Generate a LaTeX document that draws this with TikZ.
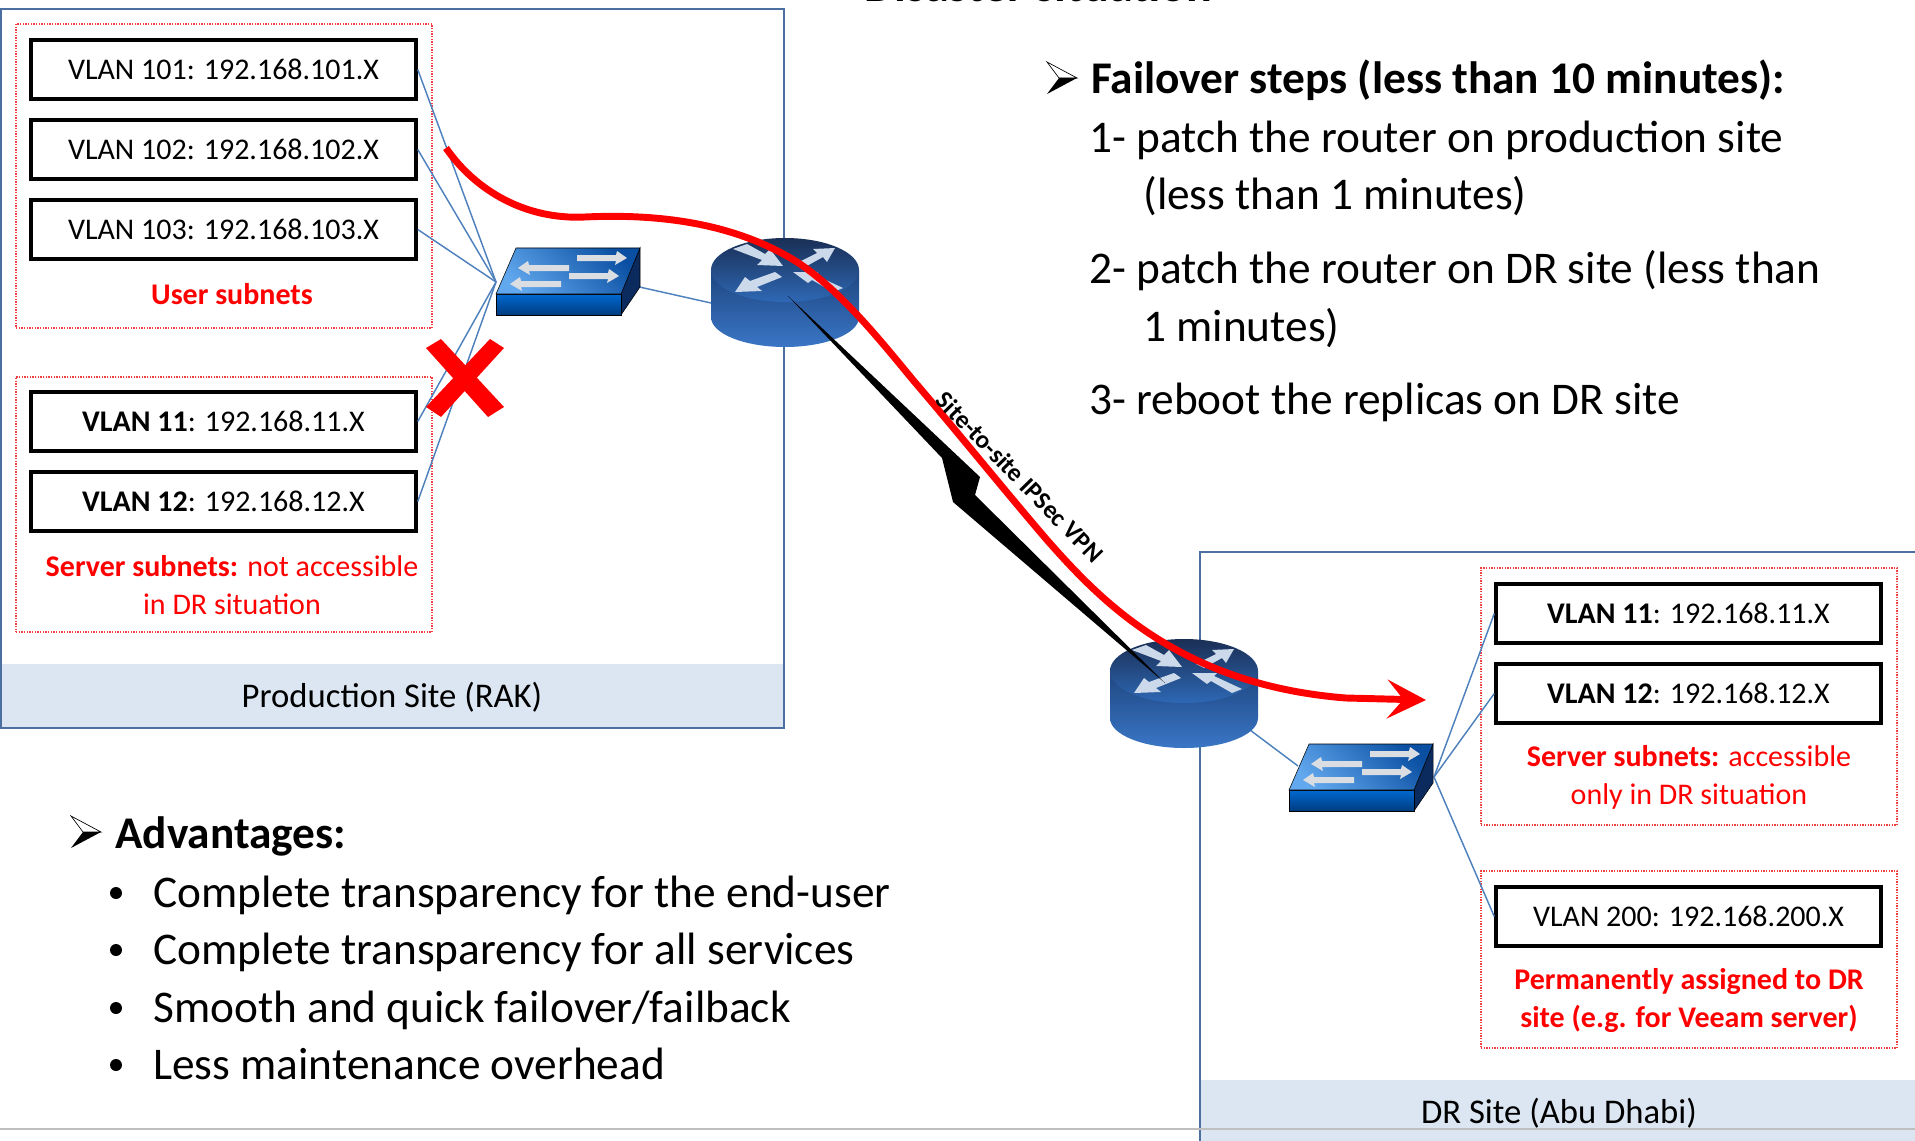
\documentclass[tikz,border=0pt]{standalone}
\usepackage{fontspec}
\setmainfont{Carlito}
\usetikzlibrary{arrows.meta}
\definecolor{sitebd}{HTML}{4A6FA0}
\definecolor{band}{HTML}{DCE6F2}
\definecolor{link}{HTML}{4F81BD}
\definecolor{dotred}{HTML}{F04040}
\definecolor{arrowfill}{HTML}{CBD9EA}
\definecolor{rbodyT}{HTML}{1E4680}
\definecolor{rbodyB}{HTML}{3A76C6}
\definecolor{rtopT}{HTML}{1A2F55}
\definecolor{rtopB}{HTML}{2E68B5}
\definecolor{swside}{HTML}{0B2A5E}
\definecolor{swfrontT}{HTML}{0068D0}
\definecolor{swfrontB}{HTML}{003C80}
\definecolor{swLL}{HTML}{62A8EE}
\definecolor{swUR}{HTML}{0A4FA2}
\definecolor{swarrowc}{HTML}{DADDE2}
\tikzset{
  vlanbox/.style={draw=black,line width=2.6pt,fill=white,inner sep=0pt,minimum width=288.75pt,minimum height=44.25pt,font=\fontsize{22.5}{27}\selectfont},
  dotbox/.style={draw=dotred,densely dotted,line width=1pt,inner sep=0pt,minimum width=312pt},
  redtext/.style={text=red,align=center,inner sep=0pt,font=\fontsize{22.5}{28.5}\selectfont},
  sitelabel/.style={inner sep=0pt,font=\fontsize{26}{30}\selectfont},
  bigtext/.style={anchor=base west,inner sep=0pt,font=\fontsize{34}{40}\selectfont},
  sitebox/.style={draw=sitebd,line width=2pt},
  conn/.style={draw=link,line width=1.1pt},
}
\newcommand{\routerpic}[2]{%
 \begin{scope}[shift={(#1,#2)}]
  \shade[top color=rbodyT,bottom color=rbodyB] (-74,0) -- (-74,47) .. controls (-74,64) and (-40,77) .. (0,77) .. controls (40,77) and (74,64) .. (74,47) -- (74,0) -- cycle;
  \shade[top color=rtopT,bottom color=rtopB] (0,0) ellipse [x radius=74,y radius=32];
  \fill[arrowfill] (-52,-21) -- (-38,-26) -- (-20,-16) -- (-15,-21) -- (-2,-4) -- (-28,-5) -- (-23,-10) -- cycle;
  \fill[arrowfill] (12,-7) -- (20,-3) -- (38,-13) -- (42,-8) -- (50,-22) -- (28,-21) -- (32,-17) -- cycle;
  \fill[arrowfill] (-10,2) -- (-3,7) -- (-28,17) -- (-23,21) -- (-50,22) -- (-40,7) -- (-35,11) -- cycle;
  \fill[arrowfill] (58,18) -- (48,22) -- (27,10) -- (23,13) -- (8,2) -- (33,2) -- (30,5) -- cycle;
 \end{scope}}
\newcommand{\swar}[4]{% tailx, y, tipx, sign
 \fill[swarrowc] (#1,#2-3) -- (#3-#4*11,#2-3) -- (#3-#4*10,#2-7) -- (#3,#2) -- (#3-#4*12,#2+7) -- (#3-#4*11,#2+3) -- (#1,#2+3) -- cycle;}
\newcommand{\switchpic}[2]{%
 \begin{scope}[shift={(#1,#2)}]
  \fill[swside,draw=black,line width=.4pt] (640,248) -- (640,287) -- (621,315) -- (621,294) -- cycle;
  \shade[top color=swfrontT,bottom color=swfrontB,draw=black,line width=.4pt] (496,294) rectangle (621,315);
  \shade[top color=swUR,bottom color=swLL,shading angle=-45,draw=black,line width=.4pt] (516,248) -- (640,248) -- (621,294) -- (496,294) -- cycle;
  \swar{577}{258}{627}{1}
  \swar{569}{268}{518}{-1}
  \swar{569}{276}{619}{1}
  \swar{561}{284}{510}{-1}
 \end{scope}}
\newcommand{\bulletarrow}[3]{% backx, tipy, half-height
 \filldraw[fill=white,draw=black,line width=.5pt] (#1,#2-#3) -- (#1+30,#2) -- (#1+12,#2) -- cycle;
 \fill[black] (#1,#2+#3) -- (#1+30,#2) -- (#1+12,#2) -- cycle;}
\begin{document}
\begin{tikzpicture}[x=.75pt,y=-.75pt]
\path[use as bounding box,clip] (0,0) rectangle (1915,1141);
% title
\node[anchor=base,inner sep=0pt,font=\fontsize{36}{40}\bfseries\selectfont] (title) at (1038,2) {Disaster situation};
% sites
\fill[band] (1,664) rectangle (784,728);
\draw[sitebox] (1,9) rectangle (784,728);
\fill[band] (1200,1080) rectangle (1916,1142);
\draw[sitebox] (1920,552) -- (1200,552) -- (1200,1146);
\node[sitelabel] (prodlabel) at (392,697) {Production Site (RAK)};
\node[sitelabel] (drlabel) at (1559,1113) {DR Site (Abu Dhabi)};
% dotted groups
\node[dotbox,minimum height=228pt] (usergrp) at (224,176) {};
\node[dotbox,minimum height=191.25pt] (servergrp) at (224,504.5) {};
\node[dotbox,minimum height=192.75pt] (drgrp) at (1689,696.5) {};
\node[dotbox,minimum height=132.75pt] (permgrp) at (1689,959.5) {};
% vlan boxes
\node[vlanbox] (v101) at (223.5,69.5) {VLAN 101: 192.168.101.X};
\node[vlanbox] (v102) at (223.5,149.5) {VLAN 102: 192.168.102.X};
\node[vlanbox] (v103) at (223.5,229.5) {VLAN 103: 192.168.103.X};
\node[vlanbox] (v11) at (223.5,421.5) {\textbf{VLAN 11}: 192.168.11.X};
\node[vlanbox] (v12) at (223.5,501.5) {\textbf{VLAN 12}: 192.168.12.X};
\node[vlanbox] (d11) at (1688.5,613.5) {\textbf{VLAN 11}: 192.168.11.X};
\node[vlanbox] (d12) at (1688.5,693.5) {\textbf{VLAN 12}: 192.168.12.X};
\node[vlanbox] (d200) at (1688.5,916.5) {VLAN 200: 192.168.200.X};
% red labels
\node[redtext] (userlbl) at (232,294) {\textbf{User subnets}};
\node[redtext] (serverlbl) at (232,585) {\textbf{Server subnets:} not accessible\\in DR situation};
\node[redtext] (drlbl) at (1689,777) {\textbf{Server subnets:} accessible\\only in DR situation};
\node[redtext] (permlbl) at (1689,1001) {\textbf{Permanently assigned to DR}\\\textbf{site (e.g. for Veeam server)}};
% port coordinates
\coordinate (sw1port) at (496,282);
\coordinate (sw1up) at (635,286);
\coordinate (r1left) at (711,303);
\coordinate (r2low) at (1250,730);
\coordinate (sw2up) at (1298,766);
\coordinate (sw2port) at (1434,777);
% connectors
\draw[conn] (v101.east) -- (sw1port);
\draw[conn] (v102.east) -- (sw1port);
\draw[conn] (v103.east) -- (sw1port);
\draw[conn] (v11.east) -- (sw1port);
\draw[conn] (v12.east) -- (sw1port);
\draw[conn] (sw1up) -- (r1left);
\draw[conn] (r2low) -- (sw2up);
\draw[conn] (sw2port) -- (d11.west);
\draw[conn] (sw2port) -- (d12.west);
\draw[conn] (sw2port) -- (d200.west);
% devices
\switchpic{0}{0}
\switchpic{793}{496}
\routerpic{785}{270}
\routerpic{1184}{671}
% lightning
\coordinate (boltA) at (788,296);
\coordinate (boltB) at (1165,683);
\fill[black] (boltA) -- (980,477) -- (975,495) -- (boltB) -- (953,502) -- (942,458) -- cycle;
% red path
\coordinate (redA) at (446,148);
\coordinate (redB) at (1426,700);
\draw[red,line width=5.2pt,-{Stealth[length=29pt,width=29pt,inset=12pt]}] (redA) .. controls (475,190) and (525,220) .. (585,217) .. controls (650,214) and (730,220) .. (797,262) .. controls (840,290) and (880,340) .. (913,380) .. controls (960,435) and (1000,485) .. (1047,540) .. controls (1100,600) and (1180,685) .. (1346,698) -- (redB);
\node[rotate=-45.7,inner sep=0pt,font=\fontsize{19}{22}\bfseries\selectfont] (vpnlbl) at (1020,477) {Site-to-site IPSec VPN};
% cross
\fill[red] (426,348) -- (441,339) -- (504,407) -- (488,417) -- cycle;
\fill[red] (490,339) -- (504,348) -- (441,417) -- (426,407) -- cycle;
% failover list
\bulletarrow{1047}{78}{16}
\node[bigtext] (fail0) at (1091,94) {\textbf{Failover steps (less than 10 minutes):}};
\node[bigtext] (fail1) at (1089,153) {1- patch the router on production site};
\node[bigtext] (fail1b) at (1143,210) {(less than 1 minutes)};
\node[bigtext] (fail2) at (1089,283) {2- patch the router on DR site (less than};
\node[bigtext] (fail2b) at (1143,341) {1 minutes)};
\node[bigtext] (fail3) at (1089,414) {3- reboot the replicas on DR site};
% advantages
\bulletarrow{71}{832}{16}
\node[bigtext] (adv0) at (115,848) {\textbf{Advantages:}};
\foreach \yy in {907,964,1022,1079}{\fill[black] (116,\yy-14) circle [radius=6];}
\node[bigtext] (adv1) at (153,907) {Complete transparency for the end-user};
\node[bigtext] (adv2) at (153,964) {Complete transparency for all services};
\node[bigtext] (adv3) at (153,1022) {Smooth and quick failover/failback};
\node[bigtext] (adv4) at (153,1079) {Less maintenance overhead};
% footer rule
\coordinate (ruleL) at (0,1129);
\coordinate (ruleR) at (1915,1129);
\draw[black!25,line width=1.5pt] (ruleL) -- (ruleR);
\end{tikzpicture}
\end{document}
